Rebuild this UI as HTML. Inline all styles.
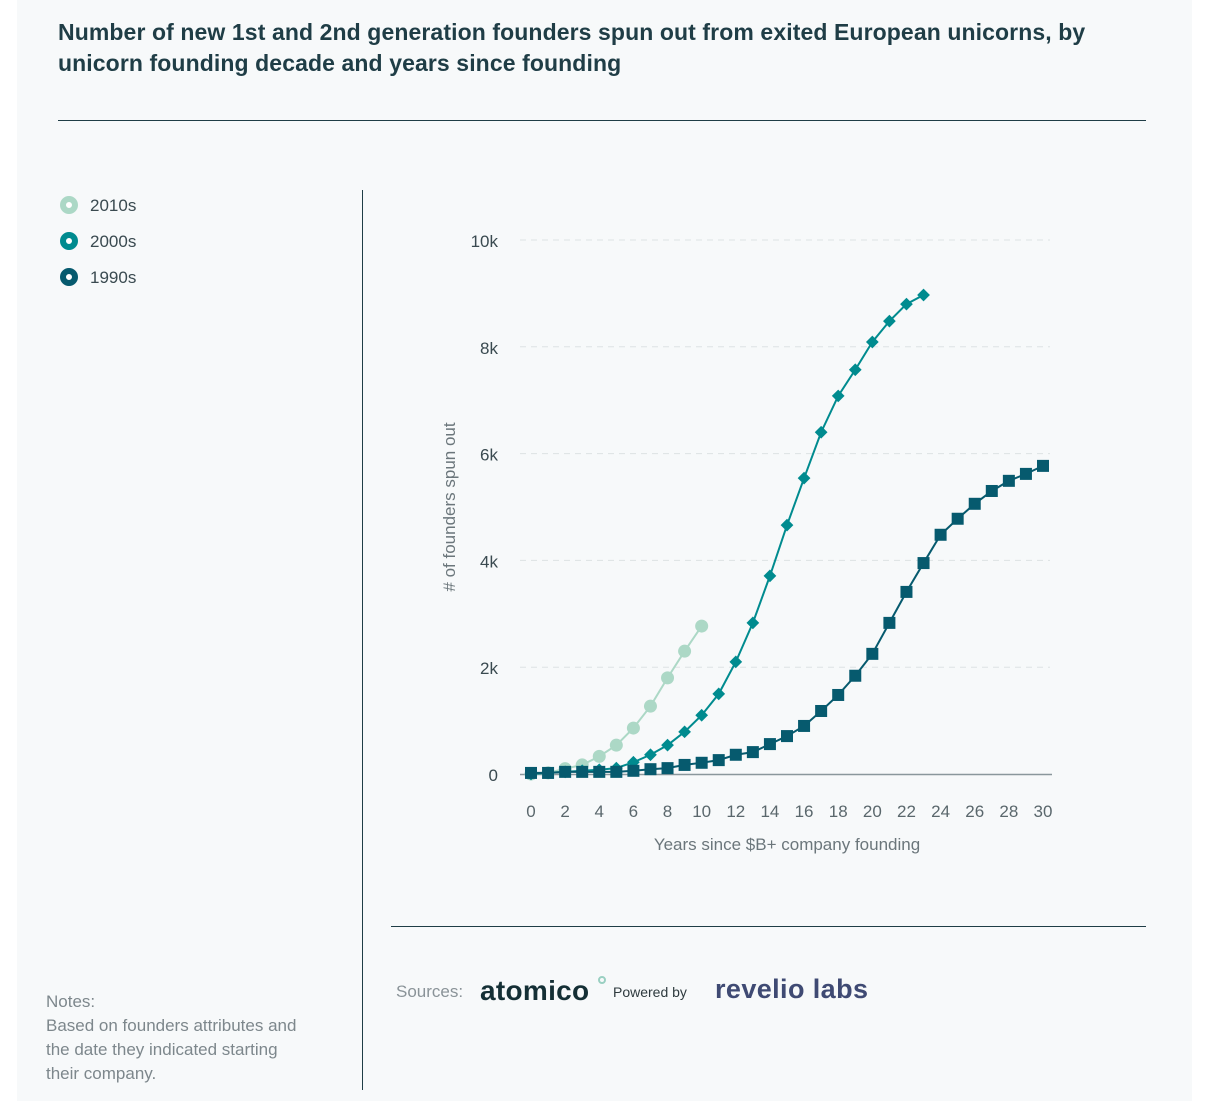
<!DOCTYPE html>
<html><head><meta charset="utf-8">
<style>
html,body{margin:0;padding:0;background:#fff;}
body{width:1220px;height:1101px;position:relative;font-family:"Liberation Sans",sans-serif;overflow:hidden;}
#panel{position:absolute;left:17px;top:0;width:1175px;height:1101px;background:#f7f9fa;}
#title{position:absolute;left:58px;top:17px;width:1100px;font-size:23px;letter-spacing:0.1px;font-weight:bold;color:#1f3d46;line-height:31px;}
.legend{position:absolute;left:60px;font-size:17px;color:#3a4a50;}
.dot{display:inline-block;width:6px;height:6px;border-radius:50%;border:6px solid;background:#fff;vertical-align:middle;margin-right:12px;position:relative;top:-2px;}
#notes{position:absolute;left:46px;top:990px;font-size:17px;color:#7d878c;line-height:24px;}
svg{position:absolute;left:0;top:0;}
</style></head><body>
<div id="panel"></div>
<div id="title">Number of new 1st and 2nd generation founders spun out from exited European unicorns, by<br>unicorn founding decade and years since founding</div>
<div class="legend" style="top:196px"><span class="dot" style="border-color:#acd8c6"></span>2010s</div>
<div class="legend" style="top:232px"><span class="dot" style="border-color:#008b8f"></span>2000s</div>
<div class="legend" style="top:268px"><span class="dot" style="border-color:#065a6e"></span>1990s</div>
<div id="notes">Notes:<br>Based on founders attributes and<br>the date they indicated starting<br>their company.</div>
<svg width="1220" height="1101" id="chart">
<line x1="58" y1="120.5" x2="1146" y2="120.5" stroke="#1f3d46" stroke-width="1"/>
<line x1="362.5" y1="190" x2="362.5" y2="1090" stroke="#1f3d46" stroke-width="1"/>
<line x1="391" y1="926.5" x2="1146" y2="926.5" stroke="#1f3d46" stroke-width="1"/>
<text x="396" y="997" font-size="17" fill="#8a9398" font-family="Liberation Sans">Sources:</text>
<text x="480" y="1000" font-size="28" font-weight="bold" fill="#142f35" font-family="Liberation Sans" letter-spacing="0.3">atomico</text>
<circle cx="602" cy="980" r="3" fill="none" stroke="#9ad0c2" stroke-width="2"/>
<text x="613" y="997" font-size="14" fill="#2e3a3e" font-family="Liberation Sans">Powered by</text>
<text x="715" y="998" font-size="27" font-weight="bold" fill="#3f4a73" font-family="Liberation Sans" letter-spacing="0.4">revelio labs</text>
<g id="plot"></g>
</svg>
<script>
const years2010 = [0,1,2,3,4,5,6,7,8,9,10];
const vals2010 = [0,0.02,0.1,0.17,0.33,0.54,0.86,1.27,1.8,2.3,2.77];
const years2000 = [0,1,2,3,4,5,6,7,8,9,10,11,12,13,14,15,16,17,18,19,20,21,22,23];
const vals2000 = [0,0.02,0.04,0.06,0.08,0.11,0.22,0.36,0.54,0.79,1.1,1.5,2.1,2.83,3.71,4.66,5.54,6.4,7.08,7.57,8.09,8.48,8.8,8.97];
const years1990 = [0,1,2,3,4,5,6,7,8,9,10,11,12,13,14,15,16,17,18,19,20,21,22,23,24,25,26,27,28,29,30];
const vals1990 = [0.02,0.02,0.04,0.04,0.04,0.04,0.06,0.09,0.11,0.17,0.21,0.26,0.36,0.41,0.56,0.71,0.9,1.18,1.48,1.84,2.25,2.83,3.41,3.95,4.48,4.78,5.06,5.3,5.49,5.62,5.77];
const yTicks = [0,2,4,6,8,10];
const yTickLabels = ["0","2k","4k","6k","8k","10k"];
const xTicks = [0,2,4,6,8,10,12,14,16,18,20,22,24,26,28,30];

const NS="http://www.w3.org/2000/svg";
const g=document.getElementById('plot');
const X=v=>531+v*(512/30);
const Y=v=>774-v*53.4;
function mk(t,a){const e=document.createElementNS(NS,t);for(const k in a)e.setAttribute(k,a[k]);g.appendChild(e);return e;}
yTicks.forEach((t,i)=>{
  if(t>0){const l=mk('line',{x1:520,x2:1050,y1:Y(t),y2:Y(t),stroke:'#dde2e4','stroke-dasharray':'6,5'});
  
  }
  const tx=mk('text',{x:498,y:Y(t)+7,'text-anchor':'end','font-size':17,fill:'#3a4a50','font-family':'Liberation Sans'});
  tx.textContent=yTickLabels[i];
  
  
});
const base=mk('line',{x1:520,x2:1052,y1:Y(0)+0.5,y2:Y(0)+0.5,stroke:'#8a979c','stroke-width':1.5});


xTicks.forEach(t=>{
  const tx=mk('text',{x:X(t),y:817,'text-anchor':'middle','font-size':17,fill:'#5a676c','font-family':'Liberation Sans'});
  tx.textContent=t;
  
  
});
const xt=mk('text',{x:787,y:850,'text-anchor':'middle','font-size':17,fill:'#6b767b','font-family':'Liberation Sans'});
xt.textContent='Years since $B+ company founding';


const yt=mk('text',{x:0,y:0,'text-anchor':'middle','font-size':17,fill:'#6b767b','font-family':'Liberation Sans',transform:'translate(455,507) rotate(-90)'});
yt.textContent='# of founders spun out';



function series(xs,vs,color,shape,name){
  const pts=xs.map((x,i)=>X(x)+','+Y(vs[i])).join(' ');
  const pl=mk('polyline',{points:pts,fill:'none',stroke:color,'stroke-width':2});
  
  
  xs.forEach((x,i)=>{
    const cx=X(x),cy=Y(vs[i]);let m;
    if(shape==='circle')m=mk('circle',{cx:cx,cy:cy,r:6.5,fill:color});
    else if(shape==='diamond')m=mk('rect',{x:cx-4.5,y:cy-4.5,width:9,height:9,fill:color,transform:`rotate(45 ${cx} ${cy})`});
    else m=mk('rect',{x:cx-6,y:cy-6,width:12,height:12,fill:color});
    
    
  });
}
series(years2010,vals2010,'#acd8c6','circle','series-2010s');
series(years2000,vals2000,'#008b8f','diamond','series-2000s');
series(years1990,vals1990,'#065a6e','square','series-1990s');
</script>
</body></html>
